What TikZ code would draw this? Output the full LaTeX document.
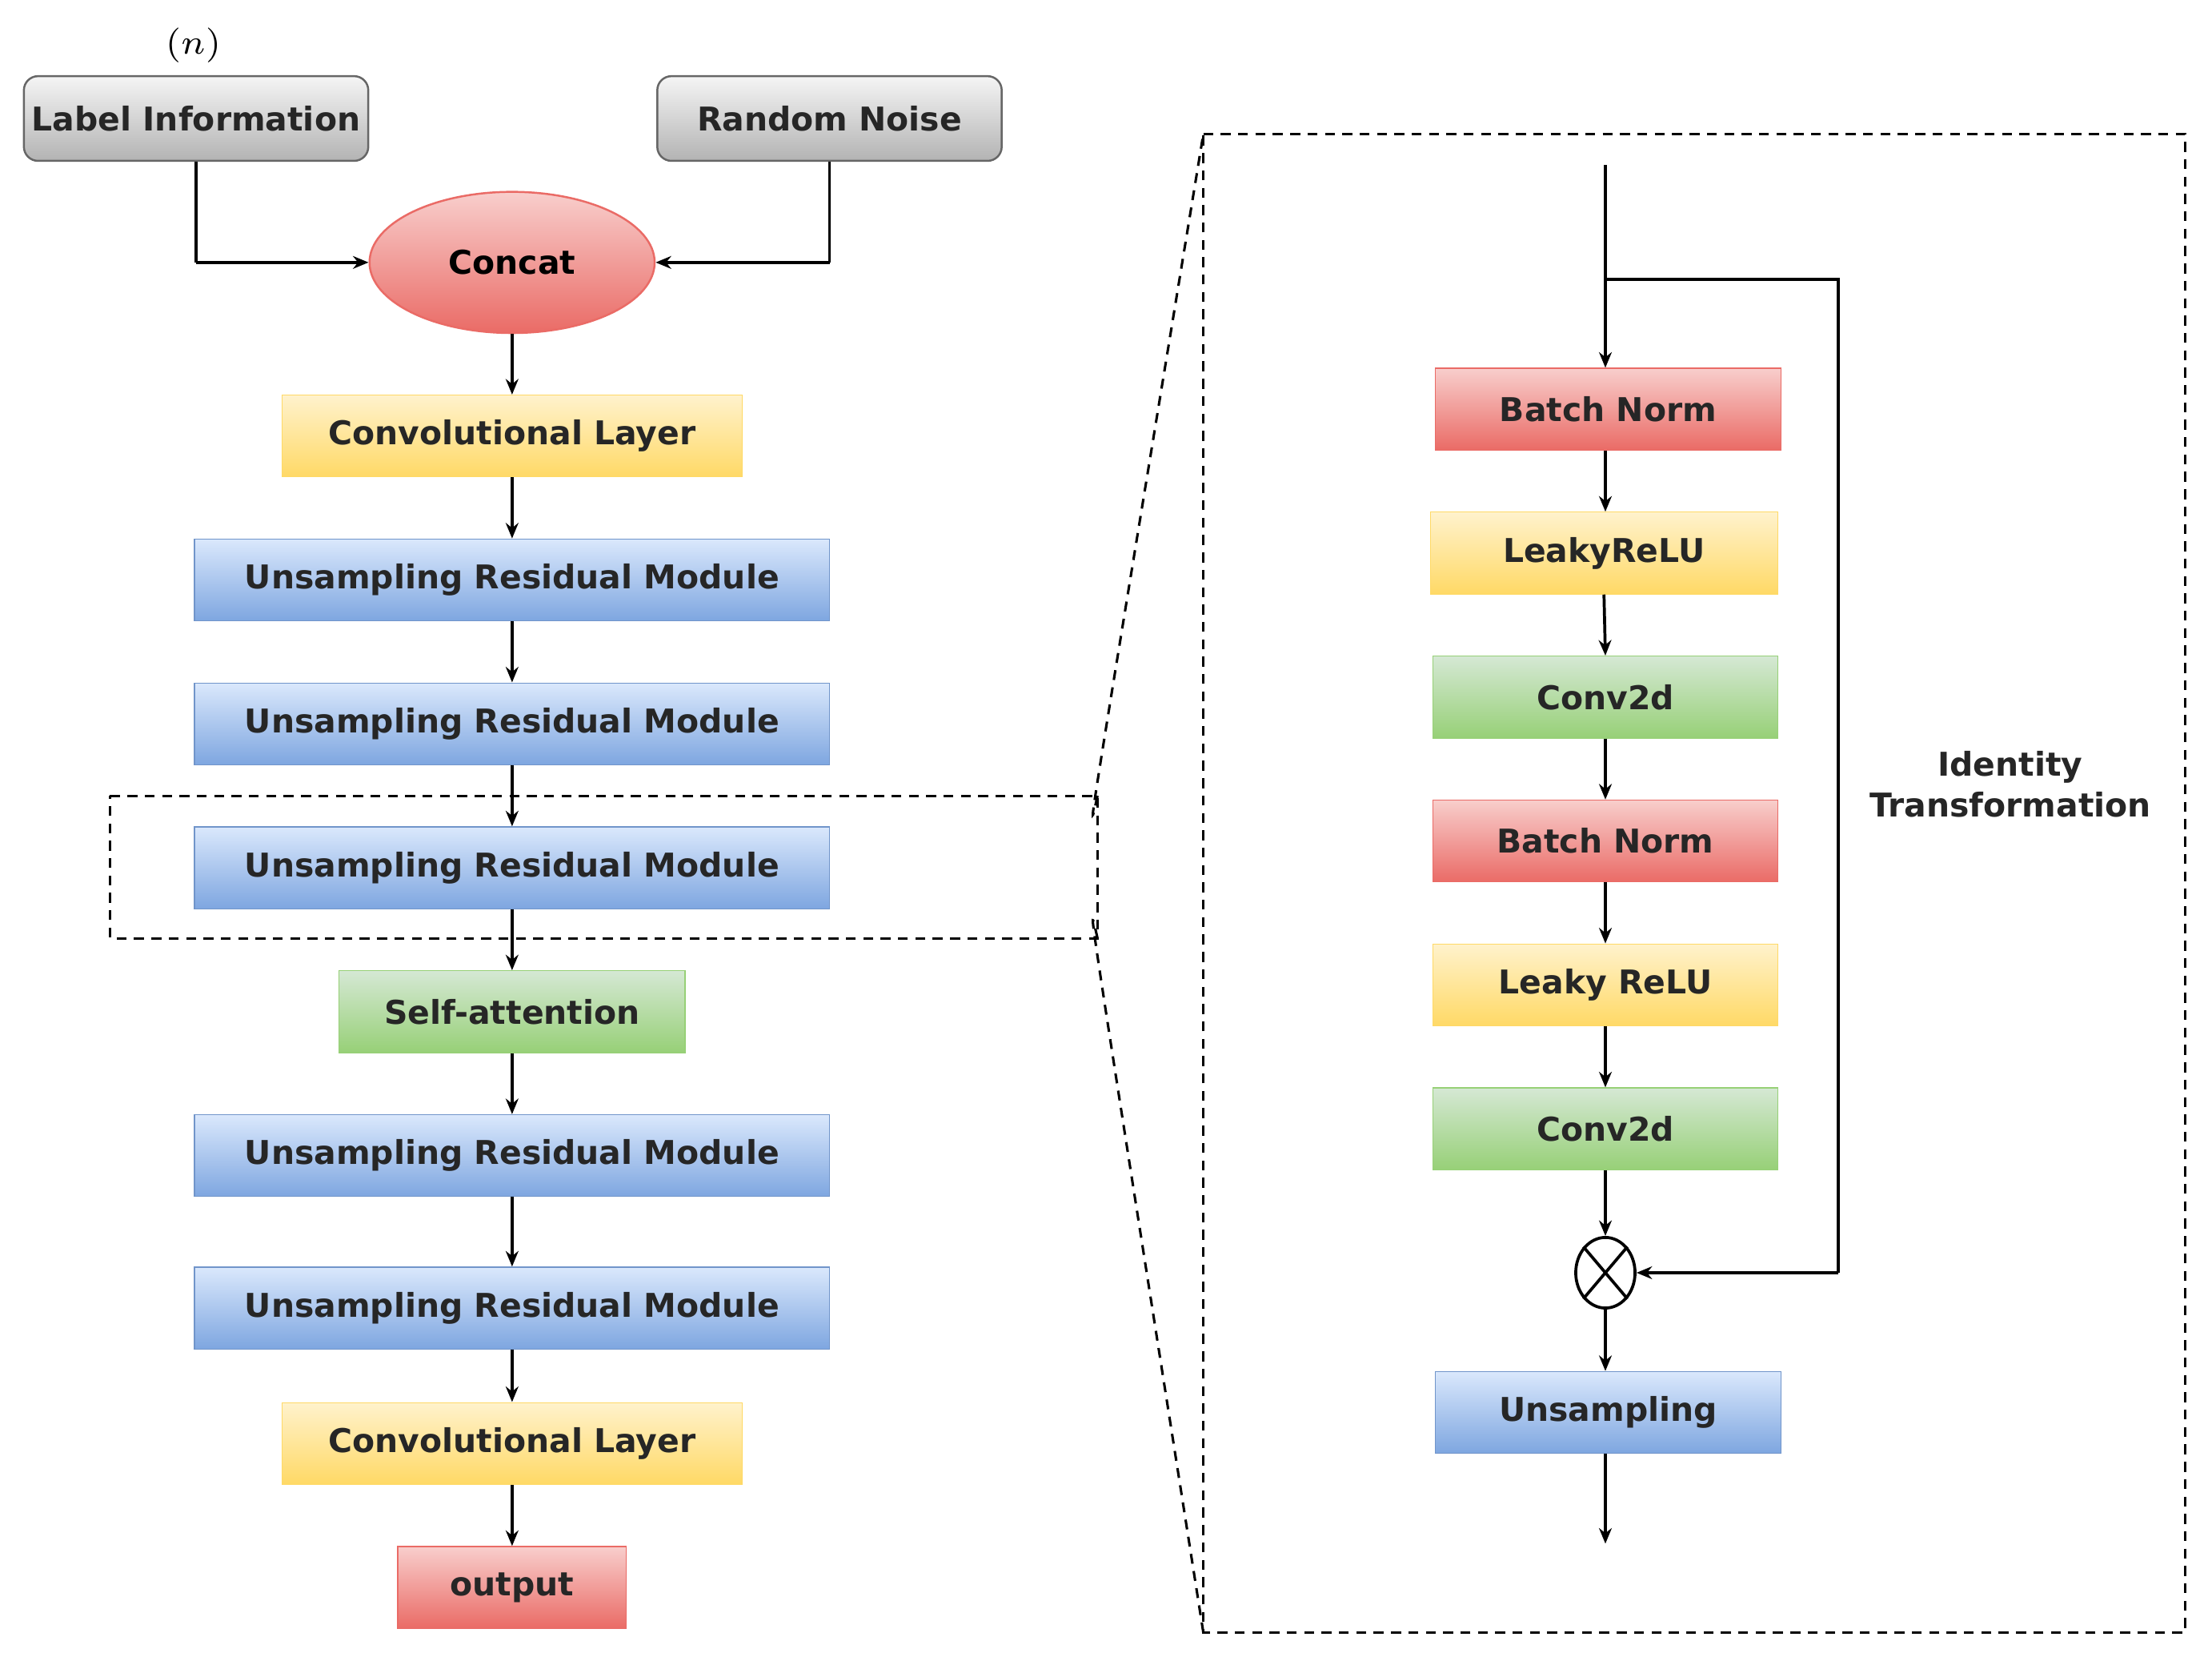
\documentclass[tikz,border=0pt]{standalone}
\usepackage{fontspec}
\setmainfont{DejaVu Sans}
\usetikzlibrary{arrows.meta,shapes.geometric}
\definecolor{bT}{HTML}{DAE8FC}\definecolor{bB}{HTML}{7EA6E0}
\definecolor{yT}{HTML}{FFF2CC}\definecolor{yB}{HTML}{FFD966}
\definecolor{rT}{HTML}{F8CECC}\definecolor{rB}{HTML}{EA6B66}
\definecolor{gT}{HTML}{D5E8D4}\definecolor{gB}{HTML}{97D077}
\definecolor{kT}{HTML}{F5F5F5}\definecolor{kB}{HTML}{B3B3B3}
\begin{document}
\begin{tikzpicture}[x=0.01cm,y=-0.01cm,
  box/.style={rectangle,minimum height=0.58cm,inner sep=0pt,font=\fontsize{6.6}{7}\selectfont\bfseries,text=black!85},
  blue/.style={box,top color=bT,bottom color=bB,draw=bB!90!black,line width=0.2pt},
  yel/.style={box,top color=yT,bottom color=yB,draw=yB,line width=0.2pt},
  red/.style={box,top color=rT,bottom color=rB,draw=rB,line width=0.2pt},
  grn/.style={box,top color=gT,bottom color=gB,draw=gB,line width=0.2pt},
  gry/.style={box,rounded corners=1mm,top color=kT,bottom color=kB,draw=black!60,line width=0.4pt,minimum height=0.6cm},
  arr/.style={-{Stealth[length=1.1mm,width=0.9mm]},line width=0.6pt},
  ln/.style={line width=0.6pt},
  dsh/.style={dashed,line width=0.5pt,dash pattern=on 2pt off 1.5pt}]
\useasboundingbox (0,0) rectangle (1568,1180);
% left column
\node[gry,minimum width=2.44cm] (lab) at (139,84) {Label Information};
\node at (137,32) {\fontsize{7.5}{8}\selectfont$(n)$};
\node[gry,minimum width=2.44cm] (noi) at (588,84) {Random Noise};
\node[ellipse,minimum width=2.02cm,minimum height=1.0cm,inner sep=0pt,top color=rT,bottom color=rB,draw=rB,font=\fontsize{6.6}{7}\selectfont\bfseries] (cat) at (363,186) {Concat};
\node[yel,minimum width=3.26cm] (c1) at (363,309) {Convolutional Layer};
\node[blue,minimum width=4.5cm] (u1) at (363,411) {Unsampling Residual Module};
\node[blue,minimum width=4.5cm] (u2) at (363,513) {Unsampling Residual Module};
\node[blue,minimum width=4.5cm] (u3) at (363,615) {Unsampling Residual Module};
\node[grn,minimum width=2.45cm] (sa) at (363,717) {Self-attention};
\node[blue,minimum width=4.5cm] (u4) at (363,819) {Unsampling Residual Module};
\node[blue,minimum width=4.5cm] (u5) at (363,927) {Unsampling Residual Module};
\node[yel,minimum width=3.26cm] (c2) at (363,1023) {Convolutional Layer};
\node[red,minimum width=1.62cm] (out) at (363,1125) {output};
\coordinate (j1) at (lab.south |- cat.west);
\coordinate (j2) at (noi.south |- cat.east);
\draw[ln] (lab.south) -- (j1); \draw[arr] (j1) -- (cat.west);
\draw[ln] (noi.south) -- (j2); \draw[arr] (j2) -- (cat.east);
\draw[arr] (cat.south) -- (c1.north);
\draw[arr] (c1.south) -- (u1.north);
\draw[arr] (u1.south) -- (u2.north);
\draw[arr] (u2.south) -- (u3.north);
\draw[arr] (u3.south) -- (sa.north);
\draw[arr] (sa.south) -- (u4.north);
\draw[arr] (u4.south) -- (u5.north);
\draw[arr] (u5.south) -- (c2.north);
\draw[arr] (c2.south) -- (out.north);
% zoom frames
\coordinate (dA) at (78,564); \coordinate (dB) at (778,564);
\coordinate (dC) at (778,665); \coordinate (dD) at (78,665);
\coordinate (rA) at (853,95); \coordinate (rB) at (1549,95);
\coordinate (rC) at (1549,1157); \coordinate (rD) at (853,1157);
\draw[dsh] (dA) -- (dB) -- (dC) -- (dD) -- cycle;
\draw[dsh] (rA) -- (rB) -- (rC) -- (rD) -- cycle;
\draw[dsh] (dB) .. controls (770,600) .. (rA);
\draw[dsh] (dC) .. controls (770,630) .. (rD);
% right column
\coordinate (top) at (1138,117);
\node[red,minimum width=2.45cm] (bn1) at (1140,290) {Batch Norm};
\node[yel,minimum width=2.46cm] (lr1) at (1137,392) {LeakyReLU};
\node[grn,minimum width=2.44cm] (cv1) at (1138,494) {Conv2d};
\node[red,minimum width=2.44cm] (bn2) at (1138,596) {Batch Norm};
\node[yel,minimum width=2.44cm] (lr2) at (1138,698) {Leaky ReLU};
\node[grn,minimum width=2.44cm] (cv2) at (1138,800) {Conv2d};
\node[ellipse,draw,line width=0.6pt,minimum width=0.42cm,minimum height=0.5cm,inner sep=0pt] (ot) at (1138,902) {};
\draw[line width=0.6pt] (ot.north west) -- (ot.south east) (ot.north east) -- (ot.south west);
\node[blue,minimum width=2.45cm] (up) at (1140,1001) {Unsampling};
\coordinate (bot) at (1138,1094);
\coordinate (s1) at (1138,198); \coordinate (s2) at (1303,198); \coordinate (s3) at (1303,902);
\draw[arr] (top) -- (top |- bn1.north);
\draw[ln] (s1) -- (s2) -- (s3); \draw[arr] (s3) -- (ot.east);
\draw[arr] (bn1.south -| top) -- (top |- lr1.north);
\draw[arr] (lr1.south) -- (cv1.north);
\draw[arr] (cv1.south) -- (bn2.north);
\draw[arr] (bn2.south) -- (lr2.north);
\draw[arr] (lr2.south) -- (cv2.north);
\draw[arr] (cv2.south) -- (ot.north);
\draw[arr] (ot.south) -- (ot.south |- up.north);
\draw[arr] (up.south -| bot) -- (bot);
\node[align=center,font=\fontsize{6.6}{8.2}\selectfont\bfseries,text=black!85] (id) at (1425,556) {Identity\\Transformation};
\end{tikzpicture}
\end{document}
